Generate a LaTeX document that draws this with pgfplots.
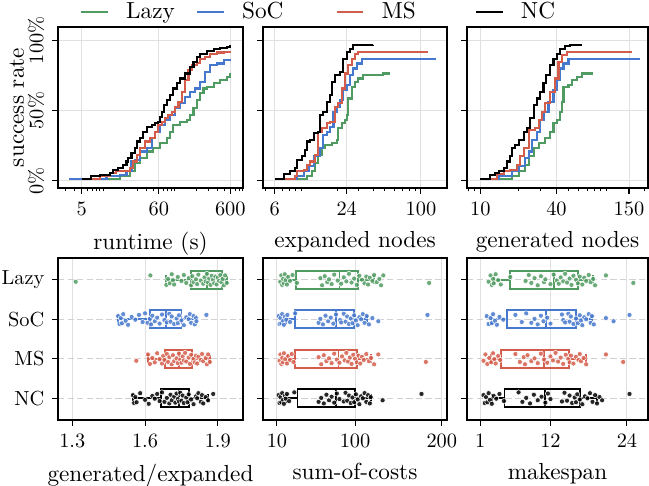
\documentclass[border=0pt,11pt]{standalone}
\usepackage{pgfplots}
\pgfplotsset{compat=1.18}
\usepgfplotslibrary{statistics}
\usepackage{pgfplotstable}

\definecolor{cLazy}{RGB}{80,155,98}
\definecolor{cSoC}{RGB}{70,120,205}
\definecolor{cMS}{RGB}{212,92,74}
\definecolor{cNC}{RGB}{0,0,0}

% jitter columns j,k ; a=Lazy b=SoC c=MS d=NC
\pgfplotstableread{
j k a b c d
0.05 -0.08 1.314 1.489 1.564 1.55
-0.11 0.12 1.622 1.495 1.612 1.555
0.13 -0.03 1.688 1.50 1.62 1.56
-0.02 0.10 1.695 1.505 1.63 1.565
0.09 -0.13 1.702 1.51 1.64 1.58
-0.14 0.04 1.71 1.52 1.65 1.60
0.01 0.14 1.715 1.53 1.66 1.615
0.12 -0.06 1.72 1.545 1.67 1.63
-0.07 0.01 1.735 1.56 1.675 1.64
0.03 -0.11 1.75 1.575 1.68 1.65
-0.12 0.07 1.76 1.59 1.69 1.66
0.08 -0.15 1.77 1.60 1.695 1.67
-0.04 0.09 1.78 1.61 1.70 1.68
0.14 -0.01 1.79 1.62 1.71 1.69
-0.09 0.13 1.795 1.625 1.715 1.70
0.06 -0.09 1.80 1.63 1.72 1.705
-0.01 0.05 1.81 1.64 1.73 1.71
0.11 -0.04 1.815 1.65 1.735 1.72
-0.13 0.11 1.82 1.66 1.74 1.725
0.02 -0.12 1.83 1.67 1.745 1.73
0.10 0.02 1.84 1.68 1.75 1.735
-0.06 0.08 1.845 1.69 1.755 1.74
0.04 -0.14 1.85 1.70 1.76 1.745
-0.15 0.06 1.855 1.705 1.765 1.75
0.07 -0.07 1.86 1.71 1.77 1.755
-0.03 0.12 1.865 1.72 1.78 1.76
0.13 -0.02 1.87 1.73 1.785 1.77
-0.10 0.10 1.875 1.735 1.79 1.775
0.00 -0.10 1.88 1.74 1.80 1.78
0.09 0.03 1.885 1.75 1.805 1.79
-0.08 0.15 1.89 1.76 1.81 1.80
0.12 -0.05 1.895 1.77 1.815 1.81
-0.05 0.00 1.90 1.78 1.82 1.815
0.03 -0.13 1.905 1.785 1.83 1.82
-0.12 0.09 1.91 1.79 1.835 1.83
0.06 -0.08 1.915 1.80 1.84 1.835
-0.02 0.13 1.92 1.805 1.85 1.84
0.14 -0.03 1.925 1.81 1.855 1.85
-0.11 0.05 1.93 1.812 1.86 1.86
0.08 -0.11 1.937 1.853 1.867 1.881
}\tblGE

\pgfplotstableread{
j k a b c d
0.05 -0.08 13.8 11.9 13 11.9
-0.11 0.12 15 13 14 13
0.13 -0.03 16 14 15 14
-0.02 0.10 17 15 16 15
0.09 -0.13 18 16 17 16
-0.14 0.04 19 17 18 17
0.01 0.14 20 18 19.5 18
0.12 -0.06 21.5 19 21.5 19
-0.07 0.01 23 20.7 23 20
0.03 -0.11 25 22 25 21.5
-0.12 0.07 28 25 27 24
0.08 -0.15 33 31 29 30
-0.04 0.09 60 58 58 58
0.14 -0.01 62 60 61 61
-0.09 0.13 65 63 64 64
0.06 -0.09 68 66 67 67
-0.01 0.05 70 69 70 70
0.11 -0.04 73 72 73 73
-0.13 0.11 76 75 76 76
0.02 -0.12 80 78 79 79
0.10 0.02 84 82.8 82 82
-0.06 0.08 87 84 85 87
0.04 -0.14 90 87 88 89
-0.15 0.06 93 89 90 91
0.07 -0.07 96 91 92 93
-0.03 0.12 99 93 94 95
0.13 -0.02 102 95 96 97
-0.10 0.10 105 97 98 99
0.00 -0.10 108 99 100 101
0.09 0.03 111 101 102 103
-0.08 0.15 113 103 104 105
0.12 -0.05 115 105 106 107
-0.05 0.00 117 107 108 109
0.03 -0.13 120 109 110 111
-0.12 0.09 122 111 113 113
0.06 -0.08 125 113.4 116 115
-0.02 0.13 128 116 118.4 117
0.14 -0.03 130 120 122 118
-0.11 0.05 132.6 126.8 126.8 131.8
0.08 -0.11 185.4 183.5 181.6 176.6
}\tblSC

\pgfplotstableread{
j k a b c d
0.05 -0.08 2.3 2.0 1.5 1.5
-0.11 0.12 2.6 2.3 1.8 1.7
0.13 -0.03 2.8 2.6 2.1 1.9
-0.02 0.10 3.0 2.8 2.4 2.1
0.09 -0.13 3.1 3.0 2.7 2.3
-0.14 0.04 3.4 3.3 3.0 2.5
0.01 0.14 3.8 3.6 3.2 2.8
0.12 -0.06 4.2 4.0 3.4 3.1
-0.07 0.01 5.7 4.6 3.8 3.5
0.03 -0.11 8.1 6.5 4.1 4.0
-0.12 0.07 8.6 7.5 6.5 4.7
0.08 -0.15 9.0 8.2 7.2 7.0
-0.04 0.09 9.5 9.0 7.8 7.6
0.14 -0.01 10.0 9.5 8.0 8.2
-0.09 0.13 10.5 10.0 8.4 8.8
0.06 -0.09 11.0 10.5 9.0 9.4
-0.01 0.05 11.2 10.9 9.5 10.0
0.11 -0.04 12.0 11.5 10.0 10.6
-0.13 0.11 12.5 12.0 10.5 11.2
0.02 -0.12 13.0 13.8 11.0 11.6
0.10 0.02 13.3 14.0 11.5 12.0
-0.06 0.08 13.6 14.3 12.0 13.8
0.04 -0.14 14.0 14.8 12.4 14.2
-0.15 0.06 14.3 15.0 12.8 14.6
0.07 -0.07 14.6 15.2 13.2 15.0
-0.03 0.12 15.0 15.6 13.6 15.4
0.13 -0.02 15.3 16.0 14.0 15.8
-0.10 0.10 15.6 16.3 14.4 16.0
0.00 -0.10 16.0 16.6 14.8 16.2
0.09 0.03 16.3 16.8 15.0 16.6
-0.08 0.15 16.6 17.0 15.2 17.0
0.12 -0.05 17.0 17.3 15.6 17.4
-0.05 0.00 17.3 17.6 16.0 17.8
0.03 -0.13 17.6 18.0 16.4 18.2
-0.12 0.09 18.0 18.3 16.6 18.6
0.06 -0.08 18.3 18.5 16.8 19.0
-0.02 0.13 18.7 18.8 17.2 19.3
0.14 -0.03 19.0 20.7 17.6 19.7
-0.11 0.05 20.7 21.9 20.7 20.1
0.08 -0.11 25.0 24.4 23.4 24.4
}\tblMK

\pgfplotsset{
  myBase/.style={
    scale only axis,
    axis line style={line width=0.7pt},
    tick style={black, line width=0.5pt},
    major tick length=2.6pt,
    minor tick length=1.6pt,
    tick align=outside,
    xtick pos=bottom, ytick pos=left,
    grid style={black!12, line width=0.45pt},
    tick label style={font=\fontsize{9.6}{11}\selectfont},
  },
  myTop/.style={
    myBase, height=75.91pt,
    ymin=-5.2, ymax=109.5,
    ytick={0,50,100},
    xmajorgrids, ymajorgrids,
  },
  myBot/.style={
    myBase, height=76.38pt,
    y dir=reverse, ymin=-0.55, ymax=3.55,
    ytick={0,1,2,3},
    xmajorgrids, ymajorgrids,
    y grid style={black!18, dash pattern=on 3pt off 1.5pt, line width=0.45pt},
    boxplot/draw direction=x,
  },
  myLine/.style={const plot, line width=1pt},
  myDots/.style={only marks, mark=*, mark size=1.2pt,
    mark options={draw=white, line width=0.25pt, fill=#1, fill opacity=0.85}},
  myBox/.style={draw=#1, line width=0.85pt, solid},
}

\begin{document}
\begin{tikzpicture}
\useasboundingbox (0,0) rectangle (306pt,-228.68pt);

% ---------------- top-left: runtime
\begin{axis}[myTop, xmode=log, at={(27.35pt,-12.73pt)}, anchor=north west, width=87.23pt,
  xmin=2.33, xmax=903,
  xtick={5,60,600}, xticklabels={5,60,600},
  minor xtick={3,4,6,7,8,9,10,20,30,40,50,70,80,90,100,200,300,400,500,700,800,900},
  yticklabels={0\%,50\%,100\%},
  yticklabel style={rotate=90, anchor=south},
  xlabel={runtime (s)}, ylabel={success rate},
  ylabel style={at={(axis description cs:-0.222,0.5)}, anchor=center},
  legend style={at={(0.083,1.093)}, anchor=west, draw=none, fill=none,
    legend columns=4},
  legend image code/.code={\draw[#1,line width=1pt] (0pt,0pt) -- (12.7pt,0pt);},
]
\addplot[myLine, cLazy] coordinates {(8.95,1.42)(17.1,3.07)(23.6,6.62)(27.8,12.5)(32.6,16.1)(40.5,20.8)(50.2,23.2)(62.3,26.7)(77.3,30.3)(86.1,35.0)(95.9,39.7)(119,42.1)(148,43.3)(164,46.8)(183,51.5)(204,57.4)(227,62.2)(253,65.7)(282,66.9)(350,69.3)(434,71.6)(538,74.0)(600,76.4)};
\addplot[myLine, cSoC] coordinates {(3.32,1.42)(11.1,3.07)(17.1,4.26)(21.2,6.62)(24.9,13.7)(27.8,14.9)(32.6,20.8)(40.5,23.2)(47.6,30.3)(53.0,35.0)(62.3,39.7)(73.2,43.3)(86.1,46.8)(101,51.5)(119,55.1)(140,59.8)(164,63.4)(193,65.7)(227,70.4)(267,77.5)(314,82.3)(389,83.5)(483,85.8)(600,87.0)};
\addplot[myLine, cMS] coordinates {(5.2,1.42)(8.95,3.07)(12.4,5.44)(15.3,6.62)(23.6,8.98)(26.3,13.7)(29.3,18.4)(32.6,23.2)(38.3,27.9)(45.1,30.3)(53.0,35.0)(59.0,39.7)(65.8,42.1)(73.2,44.4)(81.5,46.8)(90.8,49.2)(101,52.7)(113,56.3)(126,63.4)(140,71.6)(156,78.7)(173,82.3)(204,83.9)(227,87.0)(267,88.2)(314,90.5)(389,91.3)(483,91.7)(600,92.2)};
\addplot[myLine, cNC] coordinates {(5,1.42)(6.83,3.07)(8.95,4.26)(12.4,5.44)(13.8,7.33)(16.2,8.98)(19.0,11.35)(21.2,13.7)(22.4,16.1)(24.9,19.6)(27.8,23.2)(29.3,27.9)(32.6,30.3)(36.3,35.0)(40.5,38.5)(47.6,39.7)(53.0,40.9)(59.0,42.1)(62.3,45.6)(67.2,49.2)(71.7,53.9)(77.3,57.4)(86.1,61.0)(95.9,65.7)(107,69.3)(119,72.8)(140,76.4)(164,81.1)(183,84.6)(204,88.2)(227,90.5)(282,92.2)(350,93.6)(434,94.6)(538,95.3)(600,96.9)};
\legend{\makebox[37pt][l]{\hspace{6pt}Lazy},\makebox[48pt][l]{\hspace{6pt}SoC},\makebox[48pt][l]{\hspace{6pt}MS},\makebox[48pt][l]{\hspace{6pt}NC}}
\end{axis}

% ---------------- top-middle: expanded nodes
\begin{axis}[myTop, xmode=log, at={(124.0pt,-12.73pt)}, anchor=north west, width=86.76pt,
  xmin=4.8, xmax=165,
  xtick={6,24,100}, xticklabels={6,24,100},
  minor xtick={5,7,8,9,10,20,30,40,50,60,70,80,90,200},
  yticklabels={},
  xlabel={expanded nodes},
]
\addplot[myLine, cLazy] coordinates {(8.10,1.42)(11.1,3.07)(12.3,6.62)(13.1,12.5)(13.9,18.4)(14.9,23.2)(15.8,25.5)(18.0,26.7)(19.8,29.1)(20.4,37.4)(21.8,40.9)(23.2,43.3)(24.0,46.8)(24.8,58.6)(26.4,66.9)(28.1,70.4)(30.0,72.8)(33.0,75.2)(48.4,76.4)(55.0,76.4)};
\addplot[myLine, cSoC] coordinates {(7.36,1.42)(9.21,3.07)(10.5,6.62)(11.5,10.2)(12.7,17.3)(14.4,23.2)(15.3,32.6)(16.4,35.0)(17.4,38.5)(18.6,49.2)(19.8,52.7)(21.1,57.4)(22.5,64.5)(24.0,68.1)(25.6,75.2)(27.3,79.9)(29.1,83.5)(32.0,87.0)(134,87.0)};
\addplot[myLine, cMS] coordinates {(7.13,1.42)(8.91,3.07)(9.21,6.62)(10.5,7.80)(11.1,11.35)(11.9,13.7)(13.1,18.4)(13.9,35.0)(14.9,37.4)(16.4,40.9)(17.4,42.1)(19.2,52.7)(20.4,55.1)(21.8,65.7)(23.2,76.4)(24.8,82.3)(26.4,87.0)(28.1,90.5)(30.0,91.7)(115,91.7)};
\addplot[myLine, cNC] coordinates {(6.0,1.42)(7.13,4.73)(8.10,6.62)(8.91,8.98)(9.21,14.9)(10.1,17.3)(10.8,22.0)(11.1,27.9)(11.9,29.1)(12.7,33.8)(13.9,35.0)(14.4,46.8)(15.3,49.2)(16.4,56.3)(17.4,61.0)(18.0,70.4)(19.2,75.2)(21.1,77.5)(22.5,87.0)(24.0,91.7)(25.6,94.1)(27.3,96.5)(40.0,96.9)};
\end{axis}

% ---------------- top-right: generated nodes
\begin{axis}[myTop, xmode=log, at={(220.19pt,-12.73pt)}, anchor=north west, width=85.34pt,
  xmin=7.85, xmax=212,
  xtick={10,40,150}, xticklabels={10,40,150},
  minor xtick={8,9,20,30,50,60,70,80,90,100,200},
  yticklabels={},
  xlabel={generated nodes},
]
\addplot[myLine, cLazy] coordinates {(13.5,1.42)(17.8,3.07)(20.1,7.09)(22.7,11.35)(24.1,17.3)(26.4,23.2)(28.9,26.7)(32.6,30.3)(35.7,35.0)(37.9,40.9)(40.3,43.3)(42.8,49.2)(44.1,56.3)(45.5,66.9)(49.8,68.1)(52.9,71.6)(58.0,74.0)(63.5,76.4)(78.5,76.4)};
\addplot[myLine, cSoC] coordinates {(12.4,1.42)(13.95,3.07)(17.8,6.62)(20.1,10.2)(22.7,16.1)(24.1,20.8)(25.6,29.1)(28.0,35.0)(29.8,43.3)(31.6,49.2)(34.6,56.3)(37.9,64.5)(40.3,71.6)(42.8,79.9)(45.5,83.5)(49.8,87.0)(183,87.0)};
\addplot[myLine, cMS] coordinates {(12.0,1.42)(13.5,4.73)(15.3,6.62)(17.25,7.80)(19.5,11.35)(20.7,17.3)(22.0,23.2)(24.1,36.2)(27.2,37.4)(28.9,43.3)(30.7,49.2)(32.6,55.1)(35.7,63.4)(39.1,72.8)(41.5,84.6)(44.1,89.4)(48.3,91.7)(158,91.7)};
\addplot[myLine, cNC] coordinates {(10,1.42)(12.0,4.26)(13.1,5.44)(13.95,7.09)(15.3,8.98)(16.2,13.7)(17.25,17.3)(17.8,23.2)(18.9,25.5)(20.1,29.1)(22.0,35.0)(23.4,37.4)(24.8,44.4)(26.4,53.9)(28.0,58.6)(29.8,63.4)(31.6,69.3)(33.2,75.2)(35.7,82.3)(37.9,87.0)(40.3,90.5)(42.8,94.1)(46.9,96.0)(51.4,96.9)(63.5,96.9)};
\end{axis}

% ---------------- bottom-left: generated/expanded
\begin{axis}[myBot, at={(27.35pt,-121.65pt)}, anchor=north west, width=87.23pt,
  xmin=1.241, xmax=2.004,
  xtick={1.3,1.6,1.9}, xticklabels={1.3,1.6,1.9},
  yticklabels={Lazy,SoC,MS,NC},
  xlabel={generated/expanded},
]
\addplot[myBox=cLazy, boxplot prepared={draw position=0, lower whisker=1.688, lower quartile=1.789, median=1.855, upper quartile=1.916, upper whisker=1.937, box extend=0.45, whisker extend=0.22}] coordinates {};
\addplot[myBox=cSoC, boxplot prepared={draw position=1, lower whisker=1.489, lower quartile=1.622, median=1.688, upper quartile=1.750, upper whisker=1.812, box extend=0.45, whisker extend=0.22}] coordinates {};
\addplot[myBox=cMS, boxplot prepared={draw position=2, lower whisker=1.612, lower quartile=1.681, median=1.740, upper quartile=1.795, upper whisker=1.867, box extend=0.45, whisker extend=0.22}] coordinates {};
\addplot[myBox=cNC, boxplot prepared={draw position=3, lower whisker=1.55, lower quartile=1.665, median=1.739, upper quartile=1.780, upper whisker=1.86, box extend=0.45, whisker extend=0.22}] coordinates {};
\addplot[myDots=cLazy] table[x=a, y expr=\thisrow{j}] {\tblGE};
\addplot[myDots=cSoC] table[x=b, y expr=1+\thisrow{k}] {\tblGE};
\addplot[myDots=cMS] table[x=c, y expr=2+\thisrow{j}] {\tblGE};
\addplot[myDots=cNC] table[x=d, y expr=3+\thisrow{k}] {\tblGE};
\end{axis}

% ---------------- bottom-middle: sum-of-costs
\begin{axis}[myBot, at={(124.0pt,-121.65pt)}, anchor=north west, width=86.76pt,
  xmin=-6.1, xmax=206,
  xtick={10,100,200}, xticklabels={10,100,200},
  yticklabels={},
  xlabel={sum-of-costs},
]
\addplot[myBox=cLazy, boxplot prepared={draw position=0, lower whisker=21.5, lower quartile=32.2, median=82, upper quartile=103.8, upper whisker=121.8, box extend=0.45, whisker extend=0.22}] coordinates {};
\addplot[myBox=cSoC, boxplot prepared={draw position=1, lower whisker=20.7, lower quartile=31.1, median=78.2, upper quartile=99.2, upper whisker=113.4, box extend=0.45, whisker extend=0.22}] coordinates {};
\addplot[myBox=cMS, boxplot prepared={draw position=2, lower whisker=21.5, lower quartile=31.1, median=80.9, upper quartile=101.9, upper whisker=118.4, box extend=0.45, whisker extend=0.22}] coordinates {};
\addplot[myBox=cNC, boxplot prepared={draw position=3, lower whisker=21.5, lower quartile=33.7, median=78.2, upper quartile=100.4, upper whisker=118, box extend=0.45, whisker extend=0.22}] coordinates {};
\addplot[myDots=cLazy] table[x=a, y expr=\thisrow{j}] {\tblSC};
\addplot[myDots=cSoC] table[x=b, y expr=1+\thisrow{k}] {\tblSC};
\addplot[myDots=cMS] table[x=c, y expr=2+\thisrow{j}] {\tblSC};
\addplot[myDots=cNC] table[x=d, y expr=3+\thisrow{k}] {\tblSC};
\end{axis}

% ---------------- bottom-right: makespan
\begin{axis}[myBot, at={(220.19pt,-121.65pt)}, anchor=north west, width=85.34pt,
  xmin=-1.09, xmax=27.3,
  xtick={1,12,24}, xticklabels={1,12,24},
  yticklabels={},
  xlabel={makespan},
]
\addplot[myBox=cLazy, boxplot prepared={draw position=0, lower whisker=3.1, lower quartile=5.6, median=12.5, upper quartile=16.3, upper whisker=18.7, box extend=0.45, whisker extend=0.22}] coordinates {};
\addplot[myBox=cSoC, boxplot prepared={draw position=1, lower whisker=2.8, lower quartile=5.2, median=11.35, upper quartile=16.05, upper whisker=18.5, box extend=0.45, whisker extend=0.22}] coordinates {};
\addplot[myBox=cMS, boxplot prepared={draw position=2, lower whisker=2.7, lower quartile=4.3, median=11.0, upper quartile=14.85, upper whisker=17.6, box extend=0.45, whisker extend=0.22}] coordinates {};
\addplot[myBox=cNC, boxplot prepared={draw position=3, lower whisker=2.8, lower quartile=4.8, median=11.2, upper quartile=16.6, upper whisker=19.3, box extend=0.45, whisker extend=0.22}] coordinates {};
\addplot[myDots=cLazy] table[x=a, y expr=\thisrow{j}] {\tblMK};
\addplot[myDots=cSoC] table[x=b, y expr=1+\thisrow{k}] {\tblMK};
\addplot[myDots=cMS] table[x=c, y expr=2+\thisrow{j}] {\tblMK};
\addplot[myDots=cNC] table[x=d, y expr=3+\thisrow{k}] {\tblMK};
\end{axis}
\end{tikzpicture}
\end{document}
